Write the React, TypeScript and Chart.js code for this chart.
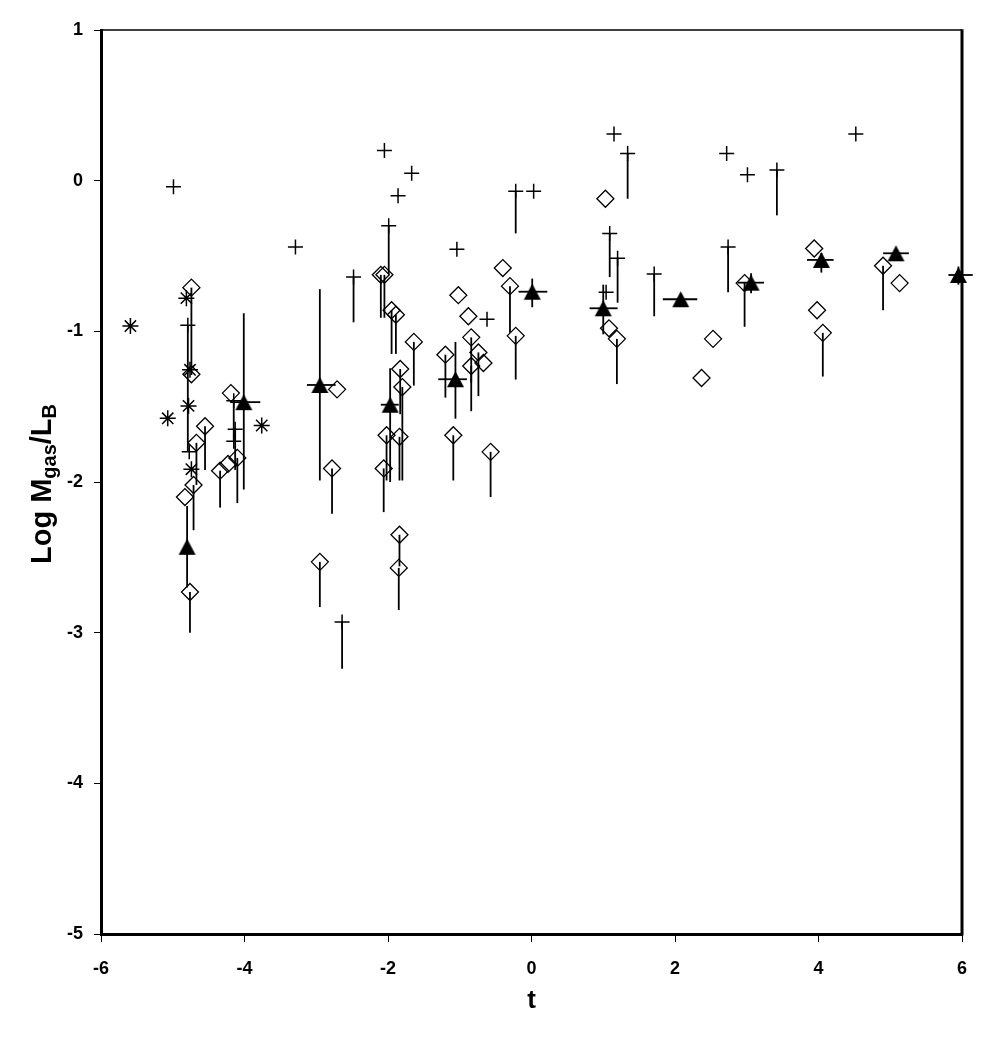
import React, { useEffect, useRef } from 'react';
import { Chart, registerables } from 'chart.js';

Chart.register(...registerables);

// ---- axis ticks ----
const xTickValues = [-6, -4, -2, 0, 2, 4, 6];
const yTickValues = [-5, -4, -3, -2, -1, 0, 1];
const xTitle = 't';
const yTitleMain1 = 'Log M';
const yTitleSub1 = 'gas';
const yTitleMain2 = '/L';
const yTitleSub2 = 'B';

// ---- crosses (+) with optional downward line end ----
const crossT = [-4.99, -4.79, -4.77, -4.15, -4.13, -4.15, -3.29, -2.48, -2.05, -1.99, -1.86, -1.67, -1.04, -0.62, -0.22, 0.03, 1.04, 1.09, 1.15, 1.2, 1.34, 1.71, 2.72, 2.74, 3.01, 3.42, 4.52, -2.64];
const crossY = [-0.04, -0.96, -1.8, -1.46, -1.65, -1.73, -0.44, -0.64, 0.2, -0.3, -0.1, 0.05, -0.455, -0.92, -0.07, -0.07, -0.74, -0.35, 0.31, -0.515, 0.18, -0.62, 0.18, -0.44, 0.04, 0.07, 0.31, -2.93];
const crossLow = [null, -1.8, null, -1.73, -1.92, null, null, -0.94, null, -0.62, null, null, null, null, -0.35, null, null, -0.64, null, -0.81, -0.12, -0.9, null, -0.74, null, -0.23, null, -3.24];

// ---- open diamonds with optional downward line end ----
const diamondT = [-4.74, -4.74, -4.55, -4.67, -4.71, -4.83, -4.76, -4.34, -4.23, -4.1, -4.19, -2.71, -2.78, -2.95, -2.1, -2.05, -1.95, -1.89, -1.64, -1.83, -1.8, -2.02, -1.84, -2.06, -1.84, -1.85, -1.09, -0.57, -1.2, -1.02, -0.88, -0.84, -0.74, -0.84, -0.67, -0.4, -0.3, -0.22, 1.03, 1.08, 1.19, 2.37, 2.53, 2.97, 3.94, 3.98, 4.06, 4.9, 5.13];
const diamondY = [-0.71, -1.285, -1.63, -1.74, -2.02, -2.1, -2.73, -1.925, -1.88, -1.84, -1.41, -1.385, -1.91, -2.53, -0.625, -0.625, -0.86, -0.89, -1.07, -1.25, -1.37, -1.69, -1.7, -1.91, -2.35, -2.57, -1.69, -1.8, -1.155, -0.76, -0.9, -1.04, -1.14, -1.23, -1.21, -0.58, -0.7, -1.03, -0.12, -0.98, -1.05, -1.31, -1.05, -0.68, -0.45, -0.86, -1.01, -0.565, -0.68];
const diamondLow = [-1.29, null, -1.92, -2.02, -2.32, null, -3.0, -2.17, null, -2.14, null, null, -2.21, -2.83, -0.91, -0.91, -1.15, -1.15, -1.36, -1.55, -1.99, -1.99, -1.99, -2.2, -2.56, -2.85, -1.99, -2.1, -1.44, null, null, -1.34, -1.43, -1.53, null, null, -1.01, -1.32, null, null, -1.35, null, null, -0.97, null, null, -1.3, -0.86, null];

// ---- asterisks ----
const starT = [-5.59, -4.81, -4.76, -4.78, -5.07, -4.74, -3.76];
const starY = [-0.965, -0.78, -1.255, -1.495, -1.577, -1.915, -1.625];

// ---- filled triangles (means) with error bars ----
const triT = [-4.8, -4.01, -2.95, -1.97, -1.06, 0.01, 1.0, 2.08, 3.06, 4.04, 5.08, 5.95];
const triY = [-2.43, -1.47, -1.356, -1.487, -1.318, -0.737, -0.847, -0.787, -0.677, -0.526, -0.482, -0.626];
const triXLo = [null, -4.2, -3.13, -2.1, -1.3, -0.18, 0.81, 1.83, 2.87, 3.84, 4.9, 5.81];
const triXHi = [null, -3.78, -2.73, -1.85, -0.9, 0.22, 1.2, 2.31, 3.24, 4.21, 5.26, 6.15];
const triYHi = [-2.16, -0.88, -0.72, -1.245, -1.07, -0.65, -0.69, null, -0.615, -0.48, null, -0.57];
const triYLo = [-2.7, -2.05, -1.99, -2.0, -1.58, -0.84, -1.02, null, -0.747, -0.61, null, -0.69];

const FONT = '"Liberation Sans", Arial, Helvetica, sans-serif';

function makeTriangle(): HTMLCanvasElement {
  const c = document.createElement('canvas');
  c.width = 19;
  c.height = 18;
  const g = c.getContext('2d')!;
  g.fillStyle = '#000';
  g.beginPath();
  g.moveTo(9.5, 1);
  g.lineTo(18, 17);
  g.lineTo(1, 17);
  g.closePath();
  g.fill();
  return c;
}

const errorBarPlugin = {
  id: 'errorBars',
  beforeDatasetsDraw(chart: any) {
    const { ctx, scales } = chart;
    const xs = scales.x;
    const ys = scales.y;
    ctx.save();
    ctx.strokeStyle = '#000';
    ctx.lineWidth = 1.8;
    ctx.lineCap = 'butt';
    const seg = (x1: number, y1: number, x2: number, y2: number) => {
      ctx.beginPath();
      ctx.moveTo(xs.getPixelForValue(x1), ys.getPixelForValue(y1));
      ctx.lineTo(xs.getPixelForValue(x2), ys.getPixelForValue(y2));
      ctx.stroke();
    };
    crossT.forEach((t, i) => {
      const lo = crossLow[i];
      if (lo !== null) seg(t, crossY[i], t, lo);
    });
    diamondT.forEach((t, i) => {
      const lo = diamondLow[i];
      if (lo !== null) seg(t, diamondY[i], t, lo);
    });
    triT.forEach((t, i) => {
      const hi = triYHi[i];
      const lo = triYLo[i];
      if (hi !== null && lo !== null) seg(t, hi, t, lo);
      const xl = triXLo[i];
      const xh = triXHi[i];
      if (xl !== null && xh !== null) seg(xl, triY[i], xh, triY[i]);
    });
    ctx.restore();
  },
};

const framePlugin = {
  id: 'frame',
  afterDraw(chart: any) {
    const { ctx, chartArea } = chart;
    ctx.save();
    ctx.strokeStyle = '#000';
    ctx.lineWidth = 1.5;
    ctx.beginPath();
    ctx.moveTo(chartArea.left, chartArea.top);
    ctx.lineTo(chartArea.right, chartArea.top);
    ctx.stroke();
    ctx.lineWidth = 3;
    ctx.beginPath();
    ctx.moveTo(chartArea.right, chartArea.top - 0.75);
    ctx.lineTo(chartArea.right, chartArea.bottom + 1.5);
    ctx.stroke();

    // axis titles
    ctx.fillStyle = '#000';
    ctx.font = `bold 26px ${FONT}`;
    ctx.textAlign = 'center';
    ctx.textBaseline = 'middle';
    ctx.fillText(xTitle, (chartArea.left + chartArea.right) / 2, chartArea.bottom + 67);

    const mainFont = `bold 29px ${FONT}`;
    const subFont = `bold 20px ${FONT}`;
    const parts = [
      { text: yTitleMain1, sub: false },
      { text: yTitleSub1, sub: true },
      { text: yTitleMain2, sub: false },
      { text: yTitleSub2, sub: true },
    ];
    let total = 0;
    const widths = parts.map((p) => {
      ctx.font = p.sub ? subFont : mainFont;
      const w = ctx.measureText(p.text).width;
      total += w;
      return w;
    });
    ctx.translate(51, 484);
    ctx.rotate(-Math.PI / 2);
    ctx.textAlign = 'left';
    ctx.textBaseline = 'alphabetic';
    let cx = -total / 2;
    parts.forEach((p, i) => {
      ctx.font = p.sub ? subFont : mainFont;
      ctx.fillText(p.text, cx, p.sub ? 5 : 0);
      cx += widths[i];
    });
    ctx.restore();
  },
};

export default function App() {
  const ref = useRef<HTMLCanvasElement | null>(null);

  useEffect(() => {
    if (!ref.current) return;
    const tri = makeTriangle();
    const chart = new Chart(ref.current, {
      type: 'scatter',
      data: {
        datasets: [
          {
            label: 'cross',
            data: crossT.map((t, i) => ({ x: t, y: crossY[i] })),
            pointStyle: 'cross',
            pointRadius: 7.5,
            borderColor: '#000',
            backgroundColor: '#000',
            pointBorderWidth: 1.5,
            clip: false,
          },
          {
            label: 'diamond',
            data: diamondT.map((t, i) => ({ x: t, y: diamondY[i] })),
            pointStyle: 'rectRot',
            pointRadius: 8.5,
            borderColor: '#000',
            backgroundColor: 'rgba(0,0,0,0)',
            pointBorderWidth: 1.3,
            clip: false,
          },
          {
            label: 'star',
            data: starT.map((t, i) => ({ x: t, y: starY[i] })),
            pointStyle: 'star',
            pointRadius: 8,
            borderColor: '#000',
            backgroundColor: '#000',
            pointBorderWidth: 1.5,
            clip: false,
          },
          {
            label: 'mean',
            data: triT.map((t, i) => ({ x: t, y: triY[i] })),
            pointStyle: tri as any,
            pointRadius: 9,
            borderColor: '#000',
            backgroundColor: '#000',
            clip: false,
          },
        ],
      },
      options: {
        responsive: false,
        animation: false,
        devicePixelRatio: 1,
        events: [],
        layout: { padding: { top: 30, right: 29, left: 0, bottom: 0 } },
        plugins: { legend: { display: false }, tooltip: { enabled: false } },
        scales: {
          x: {
            type: 'linear',
            min: -6,
            max: 6,
            afterBuildTicks: (s: any) => {
              s.ticks = xTickValues.map((v) => ({ value: v }));
            },
            afterFit: (s: any) => {
              s.height = 104;
              s.paddingLeft = 0;
              s.paddingRight = 0;
            },
            grid: { drawOnChartArea: false, drawTicks: true, tickLength: 8, tickWidth: 1, tickColor: '#000' },
            border: { display: true, color: '#000', width: 3 },
            ticks: {
              color: '#000',
              padding: 16,
              maxRotation: 0,
              font: { family: FONT, size: 18, weight: 'bold' },
            },
          },
          y: {
            type: 'linear',
            min: -5,
            max: 1,
            afterBuildTicks: (s: any) => {
              s.ticks = yTickValues.map((v) => ({ value: v }));
            },
            afterFit: (s: any) => {
              s.width = 101;
              s.paddingTop = 0;
              s.paddingBottom = 0;
            },
            grid: { drawOnChartArea: false, drawTicks: true, tickLength: 7, tickWidth: 1, tickColor: '#000' },
            border: { display: true, color: '#000', width: 3 },
            ticks: {
              color: '#000',
              padding: 11,
              font: { family: FONT, size: 18, weight: 'bold' },
            },
          },
        },
      },
      plugins: [errorBarPlugin, framePlugin],
    } as any);
    return () => chart.destroy();
  }, []);

  return (
    <div style={{ position: 'absolute', left: 0, top: 0, width: 991, height: 1038, background: '#fff' }}>
      <canvas ref={ref} width={991} height={1038} style={{ display: 'block', width: 991, height: 1038 }} />
    </div>
  );
}
